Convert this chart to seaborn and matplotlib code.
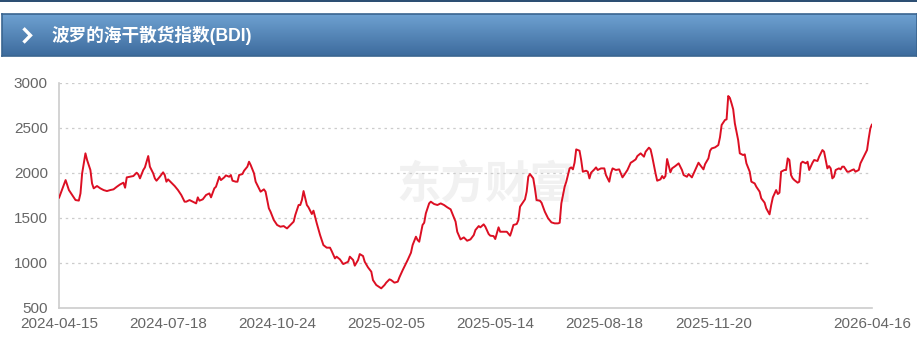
import numpy as np
import pandas as pd
import matplotlib
matplotlib.use("Agg")
import matplotlib.pyplot as plt
from matplotlib.patches import Rectangle
from matplotlib.colors import LinearSegmentedColormap
import seaborn as sns

# ---- data (trading-day index, BDI value) ----
days = [0, 4, 6, 8, 10, 12, 13, 14, 16, 17, 19, 20, 21, 23, 25, 27, 29, 31, 33, 35,
        37, 39, 40, 41, 43, 45, 47, 48, 49, 51, 52, 54, 55, 57, 58, 59, 61, 63, 64, 65,
        66, 68, 70, 72, 74, 76, 77, 79, 81, 83, 84, 85, 87, 89, 91, 92, 94, 95, 97, 98,
        100, 101, 103, 104, 105, 107, 108, 109, 111, 112, 114, 115, 116, 118, 119, 121, 122, 124, 125, 126,
        127, 128, 130, 132, 134, 136, 137, 138, 140, 142, 143, 145, 146, 147, 148, 150, 151, 153, 154, 156,
        158, 160, 162, 164, 165, 167, 168, 170, 172, 173, 175, 176, 178, 179, 181, 182, 184, 185, 187, 189,
        190, 192, 195, 197, 198, 200, 201, 203, 205, 206, 208, 210, 211, 213, 214, 216, 217, 218, 219, 220,
        221, 222, 224, 225, 227, 229, 231, 233, 235, 237, 238, 240, 241, 243, 244, 245, 247, 249, 251, 252,
        254, 255, 257, 258, 260, 261, 263, 264, 265, 266, 267, 269, 271, 273, 274, 275, 277, 278, 279, 281,
        282, 283, 284, 285, 287, 288, 289, 291, 292, 294, 296, 298, 300, 302, 303, 304, 306, 307, 309, 310,
        311, 312, 313, 315, 316, 317, 319, 320, 321, 322, 324, 325, 326, 328, 330, 331, 333, 334, 335, 337,
        339, 341, 342, 344, 346, 347, 349, 350, 352, 354, 355, 357, 358, 359, 361, 362, 364, 365, 366, 367,
        368, 370, 371, 373, 375, 377, 378, 380, 381, 383, 385, 387, 388, 390, 391, 393, 394, 395, 397, 399,
        400, 401, 403, 404, 405, 406, 407, 408, 409, 411, 412, 414, 415, 416, 418, 419, 421, 422, 424, 425,
        427, 428, 430, 431, 432, 434, 435, 436, 437, 439, 440, 441, 442, 443, 444, 445, 447, 448, 449, 450,
        452, 453, 454, 456, 457, 459, 460, 462, 463, 465, 466, 467, 468, 469, 470, 472, 473, 474, 475, 477,
        478, 480, 481, 482, 484, 485, 487, 489, 490, 491, 492]
bdi = [1720, 1918, 1807, 1752, 1696, 1690, 1770, 1992, 2215, 2141, 2030, 1881, 1826, 1852, 1826, 1807, 1796, 1807, 1815, 1844,
       1870, 1889, 1833, 1948, 1955, 1963, 2000, 1981, 1937, 2030, 2059, 2185, 2067, 1993, 1937, 1911, 1955, 2004, 1974, 1900,
       1926, 1889, 1852, 1807, 1752, 1678, 1678, 1696, 1678, 1659, 1726, 1689, 1704, 1752, 1770, 1726, 1826, 1844, 1955, 1918,
       1948, 1970, 1955, 1974, 1911, 1900, 1900, 1974, 1985, 2022, 2067, 2122, 2085, 1993, 1900, 1826, 1789, 1815, 1789, 1696,
       1604, 1567, 1474, 1419, 1400, 1407, 1393, 1381, 1419, 1456, 1530, 1641, 1641, 1696, 1796, 1641, 1615, 1541, 1578, 1437,
       1307, 1196, 1167, 1167, 1130, 1048, 1067, 1037, 985, 993, 1011, 1067, 1030, 967, 1030, 1096, 1074, 1011, 948, 900,
       807, 752, 715, 752, 778, 815, 807, 778, 789, 837, 918, 993, 1030, 1111, 1196, 1289, 1252, 1233, 1326, 1419,
       1444, 1548, 1659, 1678, 1652, 1641, 1659, 1641, 1615, 1593, 1548, 1456, 1344, 1259, 1270, 1281, 1244, 1259, 1307, 1363,
       1407, 1393, 1426, 1400, 1319, 1300, 1296, 1263, 1326, 1393, 1344, 1344, 1344, 1300, 1356, 1419, 1430, 1474, 1622, 1678,
       1704, 1789, 1955, 1985, 1937, 1826, 1696, 1689, 1667, 1567, 1493, 1448, 1437, 1437, 1444, 1659, 1844, 1900, 2048, 2059,
       2037, 2111, 2259, 2244, 2141, 2011, 2022, 2011, 1937, 2000, 2037, 2059, 2030, 2048, 2048, 1974, 1900, 1993, 2048, 2030,
       2037, 1948, 1974, 2030, 2111, 2122, 2148, 2185, 2215, 2178, 2233, 2278, 2259, 2178, 1993, 1911, 1926, 1963, 1937, 1963,
       2152, 2004, 2048, 2074, 2104, 2030, 1974, 1955, 1985, 1948, 2030, 2111, 2085, 2037, 2096, 2159, 2244, 2270, 2281, 2307,
       2393, 2530, 2585, 2593, 2852, 2830, 2770, 2704, 2548, 2363, 2215, 2196, 2204, 2104, 2011, 1900, 1881, 1844, 1789, 1715,
       1667, 1604, 1537, 1641, 1726, 1807, 1763, 1778, 2011, 2030, 2030, 2159, 2141, 1974, 1937, 1918, 1889, 1900, 2104, 2122,
       2104, 2122, 2030, 2111, 2141, 2130, 2178, 2252, 2233, 2048, 2074, 2048, 1937, 1955, 2030, 2048, 2037, 2067, 2067, 2011,
       2011, 2030, 2037, 2011, 2030, 2104, 2178, 2252, 2381, 2493, 2537]

tick_labels = ["2024-04-15", "2024-07-18", "2024-10-24", "2025-02-05",
               "2025-05-14", "2025-08-18", "2025-11-20", "2026-04-16"]
tick_step = 66
y_ticks = [500, 1000, 1500, 2000, 2500, 3000]
title = "波罗的海干散货指数(BDI)"
watermark = "东方财富"

df = pd.DataFrame({"day": days, "BDI": bdi})

sns.set_theme(style="white")
plt.rcParams["font.family"] = ["Liberation Sans", "Noto Sans CJK SC", "DejaVu Sans"]

W, H = 917, 353
fig = plt.figure(figsize=(W / 100, H / 100), dpi=100)
fig.patch.set_facecolor("white")

# top thin dark line
fig.add_artist(Rectangle((0, 1 - 2 / H), 1, 2 / H, transform=fig.transFigure,
                         facecolor="#2d4f73", edgecolor="none"))

# header bar with gradient
hax = fig.add_axes([2 / W, 1 - 56 / H, 915 / W, 42 / H])
grad = np.linspace(0, 1, 100).reshape(-1, 1)
cmap = LinearSegmentedColormap.from_list("hdr", ["#6ea1d1", "#3d6b9d"])
hax.imshow(grad, aspect="auto", cmap=cmap, extent=[0, 1, 0, 1], origin="upper")
hax.set_xlim(0, 1)
hax.set_ylim(0, 1)
hax.set_xticks([])
hax.set_yticks([])
for s in hax.spines.values():
    s.set_color("#3a6590")
    s.set_linewidth(1.2)
# chevron
hax.plot([21.5 / 915, 28.5 / 915, 21.5 / 915], [0.66, 0.49, 0.32], color="white",
         linewidth=2.4, solid_joinstyle="miter", solid_capstyle="butt")
hax.text(49 / 915, 0.48, title, color="white", fontsize=12.7, fontweight="bold",
         va="center", ha="left", family=["Liberation Sans", "Noto Sans CJK SC"])

# main chart
left, right = 59 / W, 872 / W
bottom, top = 1 - 307.7 / H, 1 - 82.7 / H
ax = fig.add_axes([left, bottom, right - left, top - bottom])

ax.text(0.525, 0.545, watermark, transform=ax.transAxes, fontsize=32, fontweight="bold",
        color="#f1f1f1", ha="center", va="center", family=["Noto Sans CJK SC"], zorder=0)

sns.lineplot(data=df, x="day", y="BDI", ax=ax, color="#dc0f23", linewidth=1.4, zorder=3)

n_last = days[-1]
tick_pos = [i * tick_step for i in range(len(tick_labels) - 1)] + [n_last]
ax.set_xlim(0, n_last)
ax.set_ylim(500, 3000)
ax.set_xticks(tick_pos)
ax.set_xticklabels(tick_labels)
ax.set_yticks(y_ticks)
ax.set_xlabel("")
ax.set_ylabel("")
ax.tick_params(axis="x", colors="#666666", labelsize=11, length=5, width=1, direction="out", pad=2)
ax.tick_params(axis="y", colors="#666666", labelsize=11, length=0, pad=8)
ax.xaxis.set_tick_params(color="#cccccc")

for yv in y_ticks[1:]:
    ax.axhline(yv, color="#cccccc", linestyle=(0, (2, 3)), linewidth=0.9, zorder=1)

for side in ["top", "right"]:
    ax.spines[side].set_visible(False)
for side in ["left", "bottom"]:
    ax.spines[side].set_color("#cccccc")
    ax.spines[side].set_linewidth(1.2)
ax.set_facecolor("none")

fig.savefig("out.png", dpi=100)
